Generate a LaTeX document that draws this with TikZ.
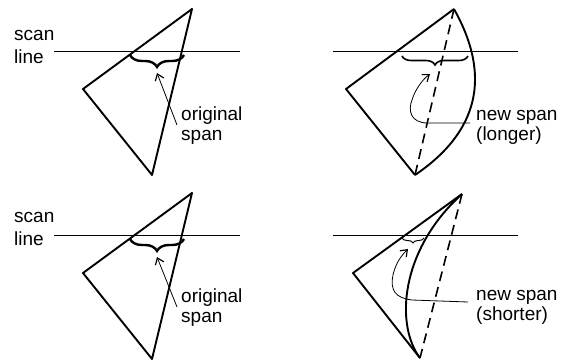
\documentclass[tikz,border=0pt]{standalone}
\usepackage{fontspec}
\setmainfont{Liberation Sans}
\usetikzlibrary{decorations.pathreplacing,arrows.meta}
\tikzset{
  edge/.style={line width=1.9pt, line join=round},
  dashedge/.style={line width=1.6pt, dash pattern=on 10pt off 6pt},
  scanline/.style={line width=0.8pt},
  thinarrow/.style={line width=0.8pt, -{Straight Barb[length=6pt,width=9pt,line width=1.2pt]}},
  spanbrace/.style={decorate, decoration={brace, mirror, amplitude=#1}},
  lbl/.style={inner sep=0pt, anchor=base west, font=\fontsize{19}{20}\selectfont}
}
\begin{document}
\begin{tikzpicture}[x=1pt,y=-1pt]
\useasboundingbox (0,0) rectangle (563,360);
% ---------- top left ----------
\coordinate (a1) at (192,9);
\coordinate (b1) at (83,89);
\coordinate (c1) at (152,175);
\draw[edge] (a1) -- (b1) -- (c1) -- cycle;
\coordinate (s1l) at (54,51);
\coordinate (s1r) at (240,51);
\draw[scanline] (s1l) -- (s1r);
\node[lbl] (scan1) at (14,40) {scan};
\node[lbl] (line1) at (14,63) {line};
\coordinate (br1l) at (130,55);
\coordinate (br1r) at (184,55);
\draw[spanbrace=12pt, line width=2.4pt] (br1l) -- (br1r);
\node[lbl] (orig1) at (181,120) {original};
\node[lbl] (span1) at (181,140) {span};
\coordinate (ar1s) at (177,125);
\coordinate (ar1e) at (157,73);
\draw[thinarrow] (ar1s) -- (ar1e);
% ---------- top right ----------
\coordinate (a2) at (454,9);
\coordinate (b2) at (346,89);
\coordinate (c2) at (415,175);
\draw[edge] (a2) -- (b2) -- (c2);
\draw[dashedge] (a2) -- (c2);
\draw[edge] (a2) .. controls (491.7,76.3) and (478.7,131.7) .. (c2);
\coordinate (s2l) at (333,51);
\coordinate (s2r) at (518,51);
\draw[scanline] (s2l) -- (s2r);
\coordinate (br2l) at (402,56);
\coordinate (br2r) at (468,56);
\draw[spanbrace=9pt, line width=1.6pt] (br2l) -- (br2r);
\node[lbl] (new2) at (476,120) {new span};
\node[lbl] (long2) at (476,140) {(longer)};
\coordinate (ar2s) at (470,123);
\coordinate (ar2e) at (430,74);
\draw[thinarrow] (ar2s) -- (428,123) .. controls (410,123) and (408,110) .. (412,100) .. controls (415,90) and (422,80) .. (ar2e);
% ---------- bottom left ----------
\coordinate (a3) at (192,193);
\coordinate (b3) at (83,273);
\coordinate (c3) at (152,359);
\draw[edge] (a3) -- (b3) -- (c3) -- cycle;
\coordinate (s3l) at (54,235);
\coordinate (s3r) at (240,235);
\draw[scanline] (s3l) -- (s3r);
\node[lbl] (scan3) at (14,222) {scan};
\node[lbl] (line3) at (14,245) {line};
\coordinate (br3l) at (130,239);
\coordinate (br3r) at (184,239);
\draw[spanbrace=12pt, line width=2.4pt] (br3l) -- (br3r);
\node[lbl] (orig3) at (181,302) {original};
\node[lbl] (span3) at (181,322) {span};
\coordinate (ar3s) at (177,307);
\coordinate (ar3e) at (157,257);
\draw[thinarrow] (ar3s) -- (ar3e);
% ---------- bottom right ----------
\coordinate (a4) at (462,194);
\coordinate (b4) at (353,273);
\coordinate (c4) at (420,358);
\draw[edge] (a4) -- (b4) -- (c4);
\draw[dashedge] (a4) -- (c4);
\draw[edge] (a4) .. controls (400,250) and (395,325) .. (c4);
\coordinate (s4l) at (333,235);
\coordinate (s4r) at (518,235);
\draw[scanline] (s4l) -- (s4r);
\coordinate (br4l) at (402,238);
\coordinate (br4r) at (424,238);
\draw[spanbrace=5pt, line width=1pt] (br4l) -- (br4r);
\node[lbl] (new4) at (476,300) {new span};
\node[lbl] (short4) at (476,320) {(shorter)};
\coordinate (ar4s) at (468,302);
\coordinate (ar4e) at (408,249);
\draw[thinarrow] (ar4s) -- (412,300) .. controls (395,298) and (390,290) .. (393,275) .. controls (396,262) and (402,255) .. (ar4e);
\end{tikzpicture}
\end{document}
